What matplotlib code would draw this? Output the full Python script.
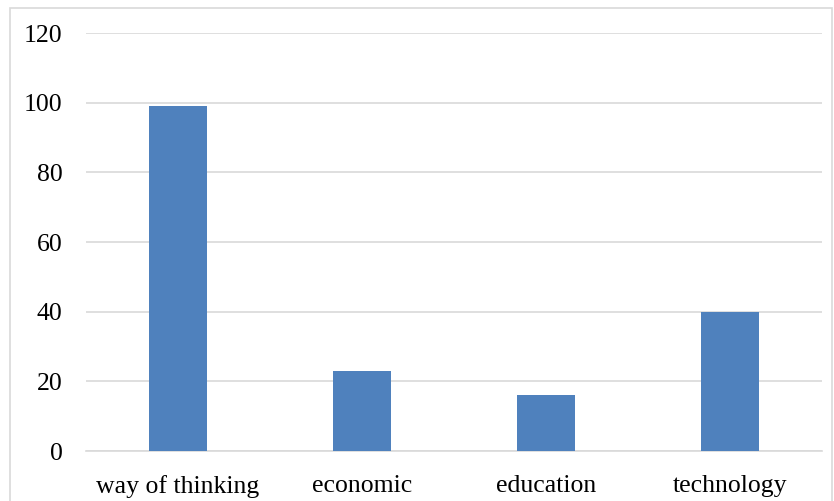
import matplotlib.pyplot as plt
from matplotlib.patches import Rectangle

categories = ["way of thinking", "economic", "education", "technology"]
values = [99, 23, 16, 40]
yticks = [0, 20, 40, 60, 80, 100, 120]

plt.rcParams["font.family"] = ["Liberation Serif", "DejaVu Serif"]

fig = plt.figure(figsize=(8.34, 5.01), dpi=100)
ax = fig.add_axes([86 / 834, 1 - 451 / 501, (822 - 86) / 834, (451 - 33) / 501])

x = range(len(categories))
ax.bar(x, values, width=0.31, color="#4F81BD", zorder=3)

ax.set_xlim(-0.5, len(categories) - 0.5)
ax.set_ylim(0, 120)
ax.set_yticks(yticks)
ax.set_xticks(list(x))
ax.set_xticklabels(categories)
ax.grid(axis="y", color="#D9D9D9", linewidth=1.2, zorder=0)
ax.tick_params(length=0, labelsize=18.5, colors="black")
ax.tick_params(axis="y", pad=17)
ax.tick_params(axis="x", pad=17)
for side in ["top", "right", "left"]:
    ax.spines[side].set_visible(False)
ax.spines["bottom"].set_color("#D9D9D9")
ax.spines["bottom"].set_linewidth(1.2)

# light frame around the chart area
fig.patches.append(Rectangle((10 / 834, -0.02), 822 / 834, 1 - 8 / 501 + 0.02,
                             transform=fig.transFigure, fill=False,
                             edgecolor="#D9D9D9", linewidth=1.2))

fig.savefig("out.png", dpi=100)
